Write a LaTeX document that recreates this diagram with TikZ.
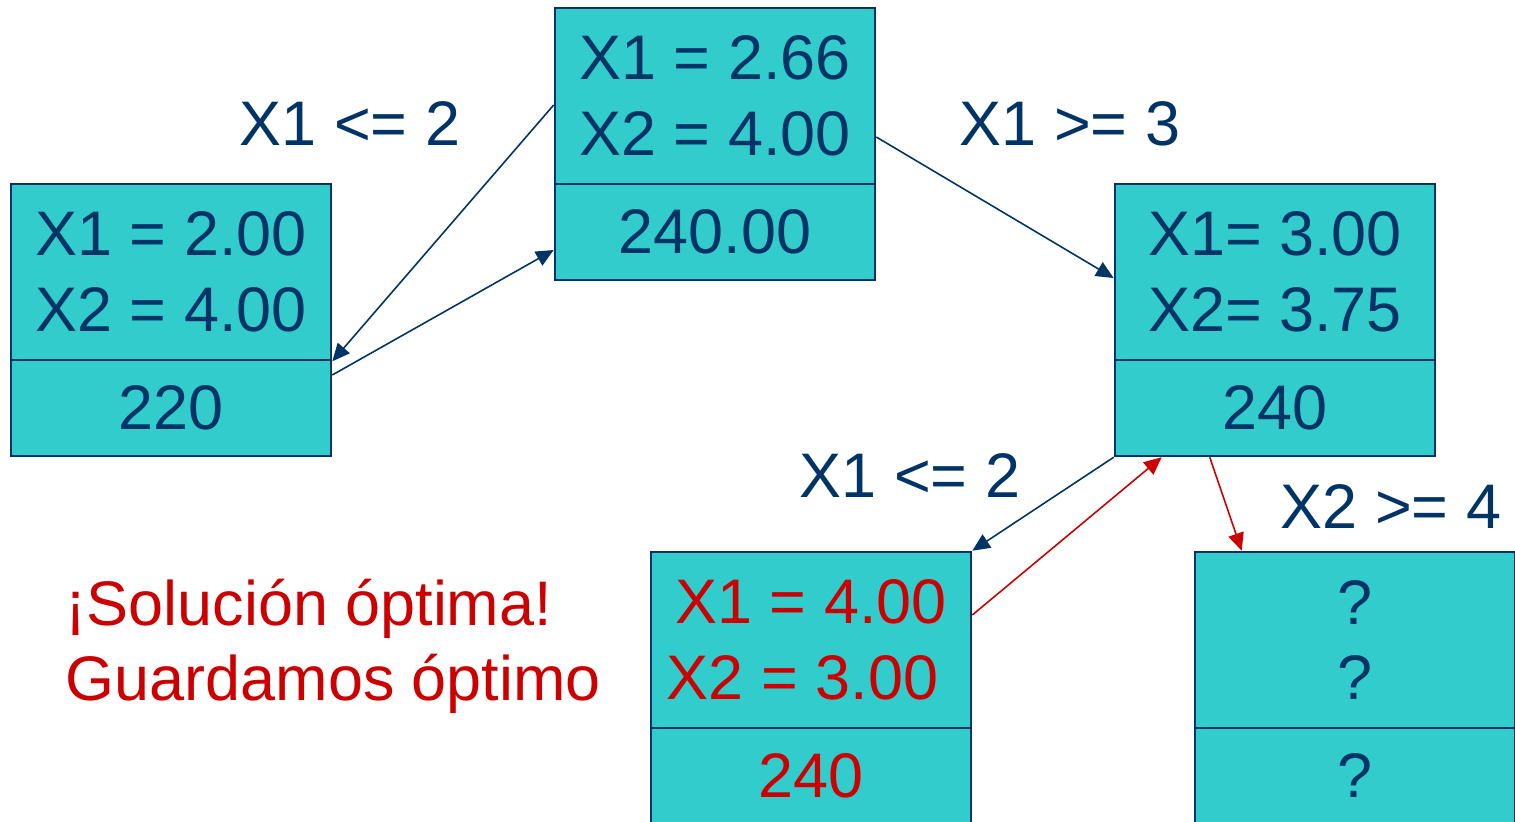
\documentclass[tikz,border=0pt]{standalone}
\usepackage{fontspec}
\setmainfont{Liberation Sans}
\usepackage{xcolor}
\usepackage{tikz}
\usetikzlibrary{arrows.meta,positioning}
\definecolor{navy}{HTML}{003366}
\definecolor{rojo}{HTML}{CC0000}
\definecolor{turq}{HTML}{33CCCC}
\tikzset{
  caja/.style={draw=navy,fill=turq,line width=0.7pt,minimum width=3.2cm,inner sep=0pt,align=center,text=navy},
  arriba/.style={caja,minimum height=1.76cm},
  abajo/.style={caja,minimum height=0.96cm},
  flecha/.style={navy,line width=0.45pt,-{Triangle[length=5pt,width=4.5pt]}},
  rama/.style={text=navy,anchor=base}
}

\begin{document}
\begin{tikzpicture}[x=0.01cm,y=-0.01cm,font=\fontsize{17.9}{21.5}\selectfont]
  \useasboundingbox (0,0) rectangle (1515,821);
  \clip (0,0) rectangle (1515,821);
  % nodes of the tree
  \node[arriba] (raiz) at (715,96) {X1 = 2.66\\X2 = 4.00};
  \node[abajo] (raizv) at (715,232) {240.00};
  \node[arriba] (izq) at (171,272) {X1 = 2.00\\X2 = 4.00};
  \node[abajo] (izqv) at (171,408) {220};
  \node[arriba] (der) at (1275,272) {X1= 3.00\\X2= 3.75};
  \node[abajo] (derv) at (1275,408) {240};
  \node[arriba,text=rojo] (opt) at (811,640) {X1 = 4.00\\X2 = 3.00\hspace*{0.17cm}};
  \node[abajo,text=rojo] (optv) at (811,776) {240};
  \node[arriba] (pend) at (1355,640) {?\\?};
  \node[abajo] (pendv) at (1355,776) {?};
  % branch labels
  \node[rama] (r1) at (350,145) {X1 <= 2};
  \node[rama] (r2) at (1070,145) {X1 >= 3};
  \node[rama] (r3) at (910,497) {X1 <= 2};
  \node[rama] (r4) at (1391,528) {X2 >= 4};
  \node[anchor=base west,inner sep=0pt,text=rojo] (sol1) at (65,625) {¡Solución óptima!};
  \node[anchor=base west,inner sep=0pt,text=rojo] (sol2) at (65,700) {Guardamos óptimo};
  % arrows
  \draw[flecha] ([yshift=-0.09cm]raiz.west) -- (izq.south east);
  \draw[flecha] ([yshift=0.33cm]izqv.east) -- ([yshift=-0.18cm]raizv.west);
  \draw[flecha] ([yshift=-0.41cm]raiz.east) -- ([yshift=-0.06cm]der.west);
  \draw[flecha] (derv.south west) -- (opt.north east);
  \draw[flecha,rojo] ([yshift=0.25cm]opt.east) -- ([xshift=0.48cm]derv.south west);
  \draw[flecha,rojo] ([xshift=0.96cm]derv.south west) -- ([xshift=0.48cm]pend.north west);
\end{tikzpicture}
\end{document}
